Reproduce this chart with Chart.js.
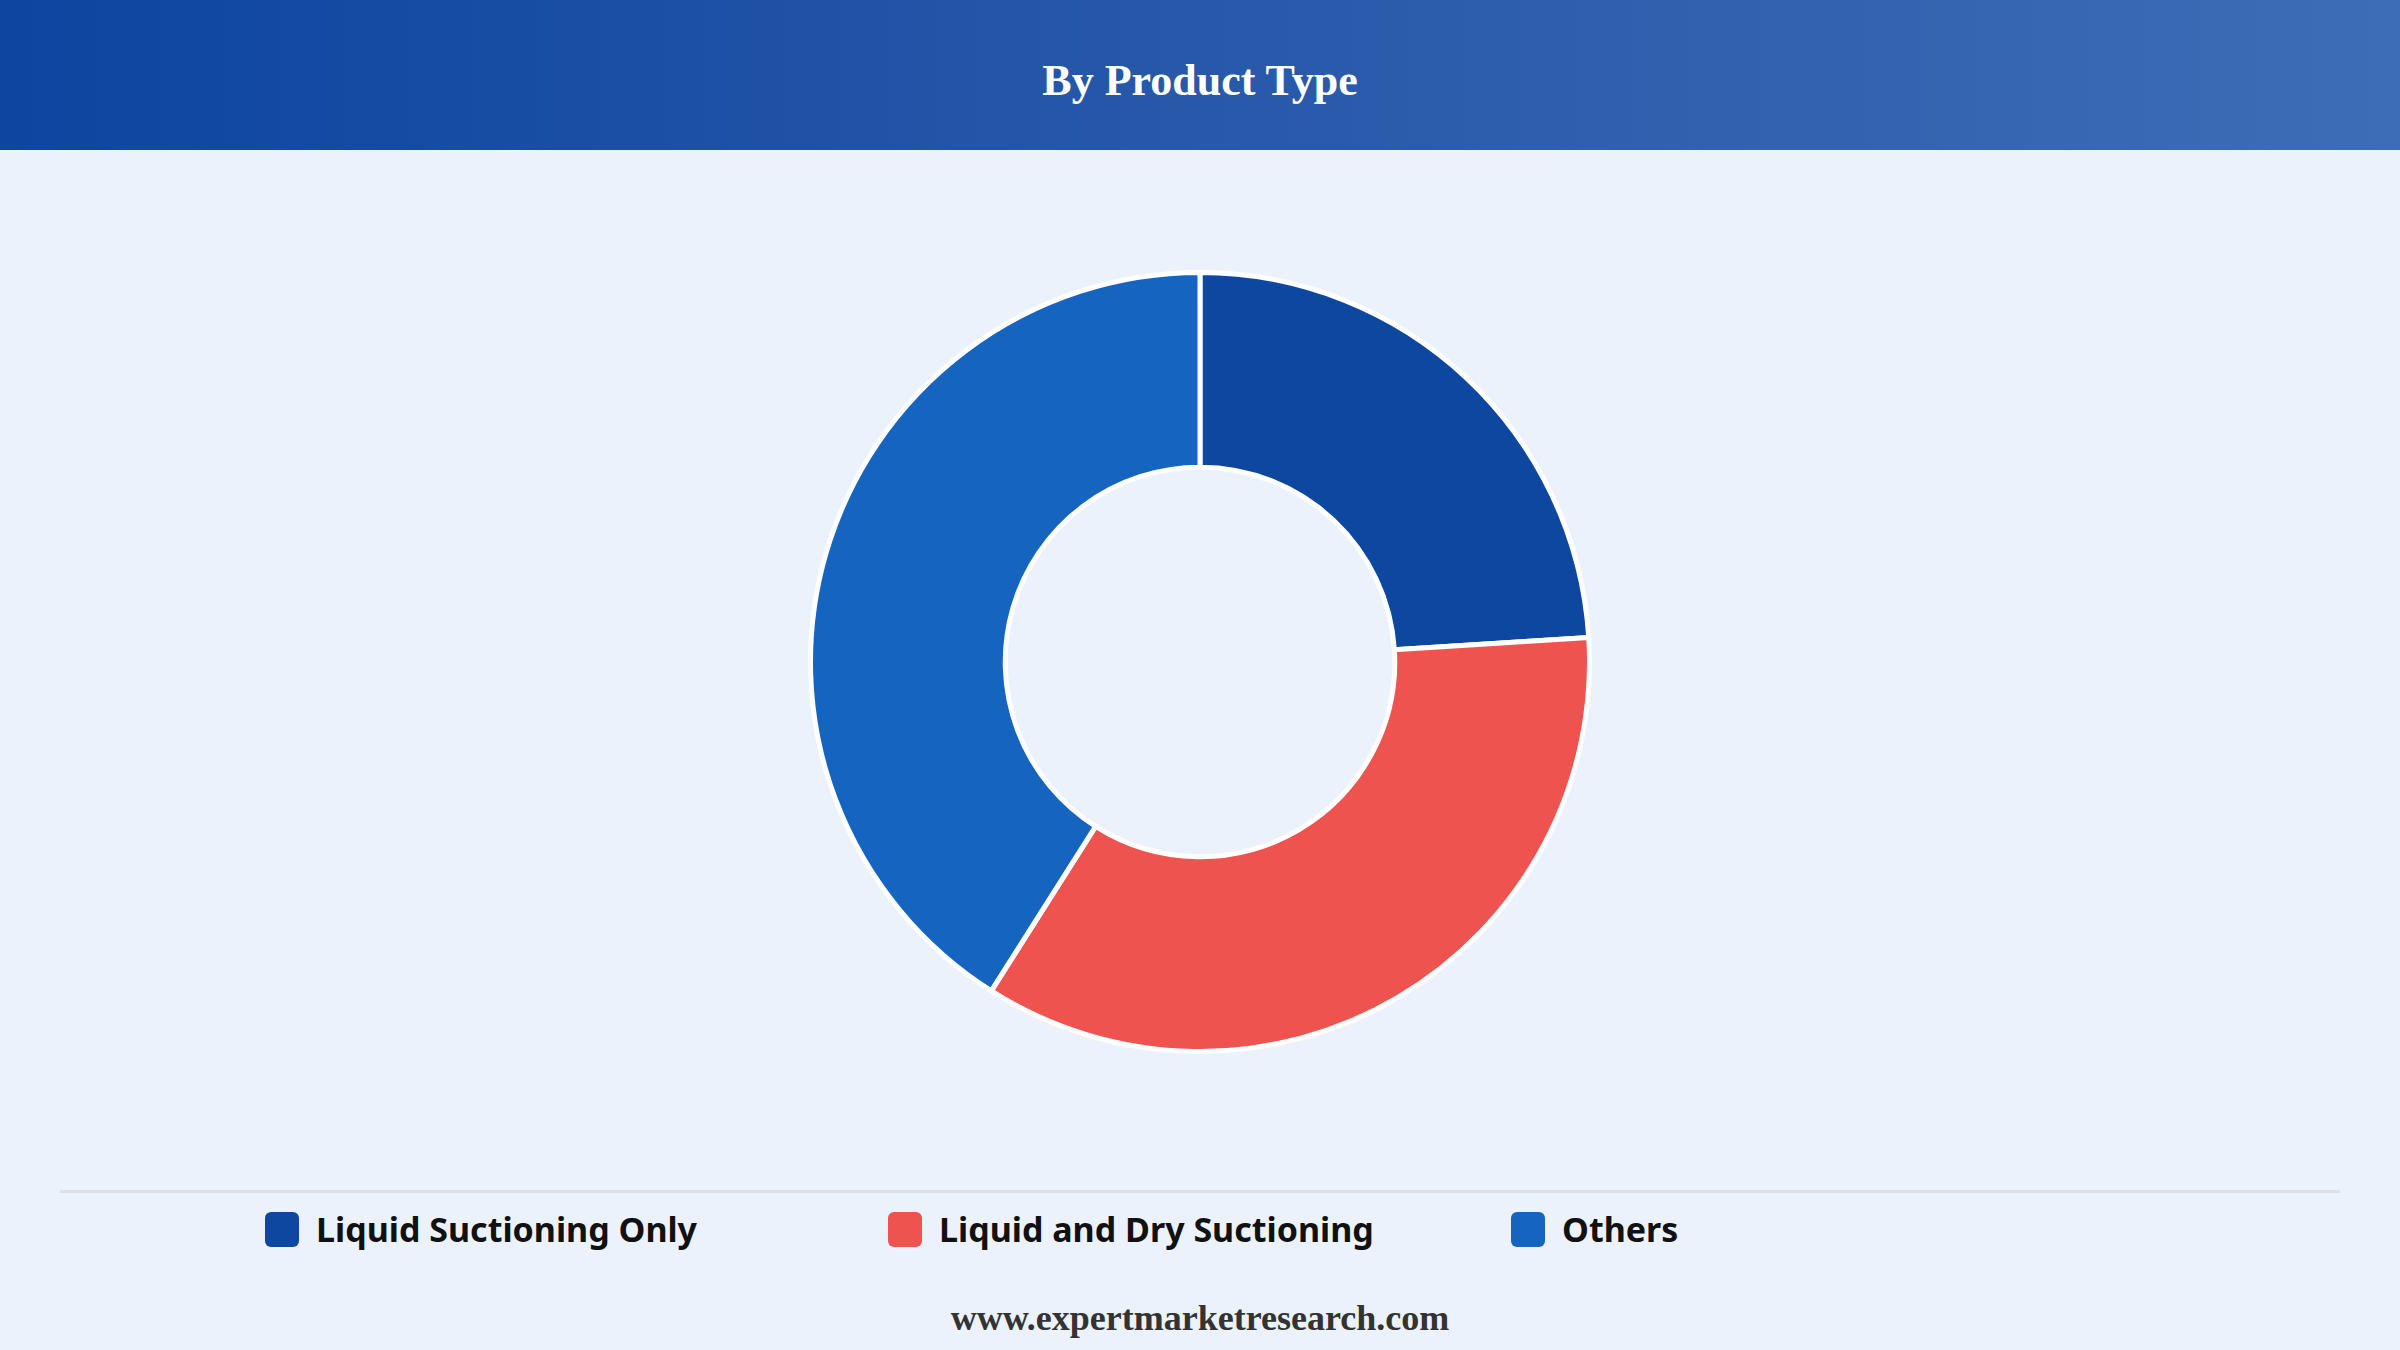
<!DOCTYPE html>
<html>
<head>
<meta charset="utf-8">
<script src="https://cdn.jsdelivr.net/npm/chart.js@4/dist/chart.umd.min.js"></script>
<style>
  html, body { margin: 0; padding: 0; }
  body {
    width: 2400px; height: 1350px; overflow: hidden;
    background: #ebf2fb; position: relative;
  }
  .header {
    position: absolute; left: 0; top: 0; width: 2400px; height: 150px;
    background: linear-gradient(to right, #0d45a0, #2a5aab 55%, #3d6db6);
  }
  .header h1 {
    margin: 0; line-height: 162px; text-align: center; color: #fff;
    font-family: "Liberation Serif", "DejaVu Serif", serif; font-weight: bold; font-size: 44px;
  }
  .chart-box { position: absolute; left: 808px; top: 270px; width: 784px; height: 784px; }
  .divider { position: absolute; left: 60px; top: 1190px; width: 2280px; height: 3px; background: #dcdfe4; }
  .legend { position: absolute; left: 265px; top: 1206px; display: flex; }
  .legend-item { width: 623px; display: flex; align-items: center; }
  .legend-box { width: 34px; height: 35px; border-radius: 6px; margin-right: 17px; }
  .legend-text { font-family: "Noto Sans", "Open Sans", sans-serif; font-weight: bold; font-size: 34px; color: #111; }
  .footer {
    position: absolute; left: 0; top: 1297px; width: 2400px; text-align: center;
    font-family: "Liberation Serif", "DejaVu Serif", serif; font-weight: bold; font-size: 36px; color: #333;
  }
</style>
</head>
<body>
<div class="header"><h1>By Product Type</h1></div>
<div class="chart-box"><canvas id="chart"></canvas></div>
<div class="divider"></div>
<div class="legend" id="legend"></div>
<div class="footer">www.expertmarketresearch.com</div>
<script>
  // chart data
  const categories = ['Liquid Suctioning Only', 'Liquid and Dry Suctioning', 'Others'];
  const shares = [24, 35, 41];
  const sliceColors = ['#0e47a0', '#ef5350', '#1565c0'];

  const ctx = document.getElementById('chart').getContext('2d');
  new Chart(ctx, {
    type: 'doughnut',
    data: {
      labels: categories,
      datasets: [{
        data: shares,
        backgroundColor: sliceColors,
        borderColor: '#ffffff',
        borderWidth: 5
      }]
    },
    options: {
      responsive: true,
      maintainAspectRatio: false,
      animation: false,
      cutout: '50%',
      layout: { padding: 0 },
      plugins: {
        legend: { display: false },
        tooltip: { enabled: false }
      }
    }
  });

  // html legend built from the same arrays
  const legend = document.getElementById('legend');
  categories.forEach((name, i) => {
    const item = document.createElement('div');
    item.className = 'legend-item';
    const box = document.createElement('div');
    box.className = 'legend-box';
    box.style.background = sliceColors[i];
    const txt = document.createElement('span');
    txt.className = 'legend-text';
    txt.textContent = name;
    item.appendChild(box);
    item.appendChild(txt);
    legend.appendChild(item);
  });
</script>
</body>
</html>
